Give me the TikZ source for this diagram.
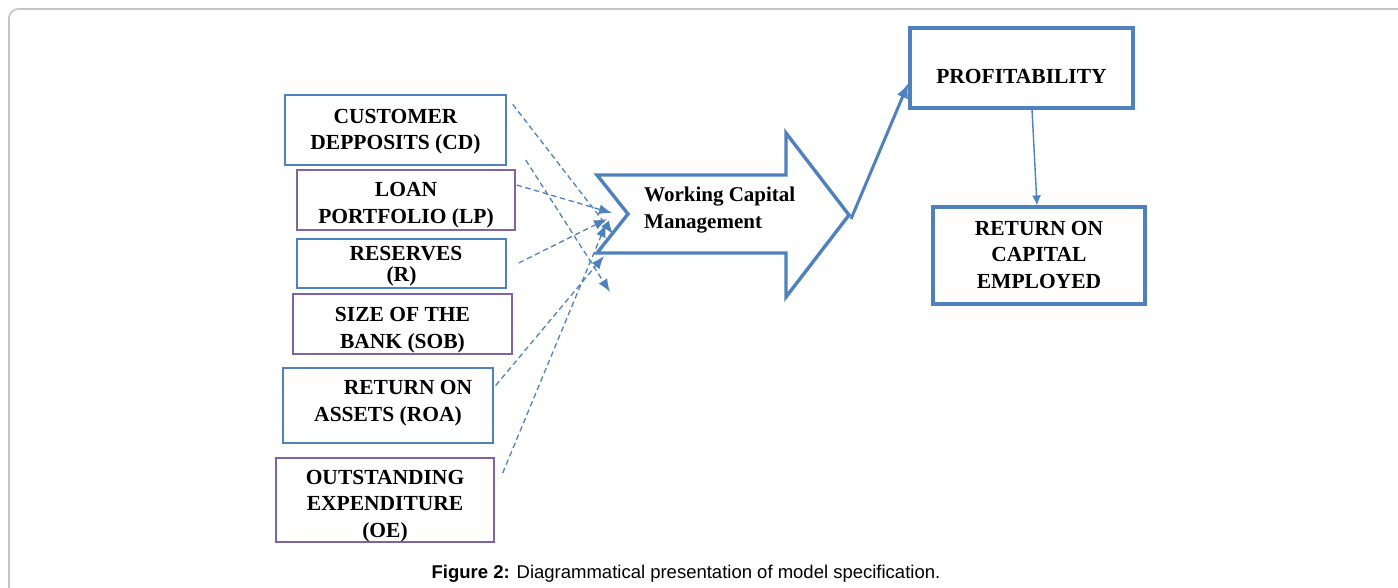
\documentclass[tikz,border=0pt]{standalone}
\usepackage{fontspec}
\setmainfont{Liberation Serif}
\newfontfamily\capfont{Liberation Sans}
\usetikzlibrary{arrows.meta,calc}
\definecolor{bbl}{HTML}{4F81BD}
\definecolor{ppl}{HTML}{8064A2}
\definecolor{frm}{HTML}{C4C4C4}
\tikzset{
  txt/.style={font=\bfseries\fontsize{21.5}{26.5}\selectfont, align=center, inner sep=0pt},
  bluebox/.style={draw=bbl, line width=1.4pt, inner sep=0pt},
  purplebox/.style={draw=ppl, line width=1.4pt, inner sep=0pt},
  bigbox/.style={draw=bbl, line width=3.2pt, inner sep=0pt},
  dashconn/.style={draw=bbl, line width=1.3pt, dash pattern=on 5.5pt off 3.5pt, -{Latex[length=13pt,width=10pt]}},
}
\begin{document}
\begin{tikzpicture}[x=1pt,y=-1pt]
\useasboundingbox (0,0) rectangle (1398,588);
\clip (0,0) rectangle (1398,588);
\fill[white] (0,0) rectangle (1398,588);
\draw[frm, line width=1.6pt, rounded corners=9pt] (9,9) rectangle (1430,630);

% left boxes
\node[bluebox, minimum width=221pt, minimum height=70pt] (cd) at (395.5,130) {};
\node[txt] (cdt) at ($(cd.center)+(0,1.5)$) {CUSTOMER\\DEPPOSITS (CD)};
\node[purplebox, minimum width=218pt, minimum height=60pt] (lp) at (406,200) {};
\node[txt] (lpt) at ($(lp.center)+(0,5)$) {LOAN\\PORTFOLIO (LP)};
\node[bluebox, minimum width=209pt, minimum height=49pt] (r) at (401.5,263.5) {};
\node[txt, font=\bfseries\fontsize{21.5}{20.5}\selectfont] (rt) at ($(r.center)+(0,2.5)$) {\hspace*{9pt}RESERVES\\(R)};
\node[purplebox, minimum width=219pt, minimum height=60pt] (sob) at (402.5,324) {};
\node[txt] (sobt) at ($(sob.center)+(0,6)$) {SIZE OF THE\\BANK (SOB)};
\node[bluebox, minimum width=210pt, minimum height=75pt] (roa) at (388,405.5) {};
\node[txt] (roat) at ($(roa.center)+(0,-2.5)$) {\hspace*{40pt}RETURN ON\\ASSETS (ROA)};
\node[purplebox, minimum width=218pt, minimum height=84pt] (oe) at (385,500) {};
\node[txt] (oet) at ($(oe.center)+(0,6)$) {OUTSTANDING\\EXPENDITURE\\(OE)};

% big block arrow
\draw[bbl, line width=3.4pt, line join=miter, fill=white]
  (597,175) -- (786,175) -- (786,133) -- (849,215) -- (786,297) -- (786,253) -- (597,253) -- (628,214) -- cycle;
\coordinate (wtip) at (851,219);
\node[font=\bfseries\fontsize{21}{27}\selectfont, align=left, anchor=west, inner sep=0pt] (wcm) at (644,210) {Working Capital\\Management};

% right boxes
\node[bigbox, minimum width=223pt, minimum height=80pt] (prof) at (1021.5,68) {};
\node[txt] (proft) at ($(prof.center)+(0,8)$) {PROFITABILITY};
\node[bigbox, minimum width=212pt, minimum height=97pt] (roce) at (1039,255.5) {};
\node[txt] (rocet) at ($(roce.center)+(0,-1)$) {RETURN ON\\CAPITAL\\EMPLOYED};

\draw[bbl, line width=3pt, -{Latex[length=15pt,width=12pt]}] (wtip) -- (prof.west |- 0,83);
\draw[bbl, line width=1.4pt, -{Latex[length=10pt,width=9pt]}] ($(prof.south)+(10.5,0)$) -- ($(roce.north)+(-2,0)$);

% dashed connectors
\coordinate (e1) at (613,234);
\coordinate (e2) at (610,292);
\coordinate (e3) at (612,213);
\coordinate (e4) at (607,219);
\coordinate (e5) at (604,256);
\coordinate (e6) at (606,224);
\draw[dashconn] ($(cd.north east)+(6,10)$) -- (e1);
\draw[dashconn] ($(cd.east)+(19,30)$) -- (e2);
\draw[dashconn] ($(lp.east)+(1,-15)$) -- (e3);
\draw[dashconn] ($(r.east)+(12,-0.5)$) -- (e4);
\draw[dashconn] ($(roa.east)+(2,-20)$) -- (e5);
\draw[dashconn] ($(oe.east)+(8,-27)$) -- (e6);

% caption
\node[font=\capfont\fontsize{18.5}{22}\selectfont, anchor=base, inner sep=0pt] (cap) at (686,578) {\textbf{Figure 2:} Diagrammatical presentation of model specification.};
\end{tikzpicture}
\end{document}
